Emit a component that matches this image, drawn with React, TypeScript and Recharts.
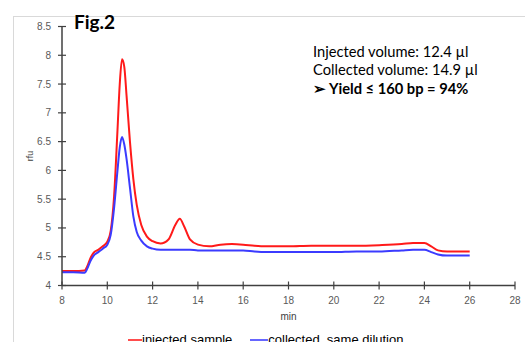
import { LineChart, Line, XAxis, YAxis } from "recharts";

const times = [8.0, 8.5, 9.0, 9.1, 9.25, 9.4, 9.6, 9.8, 10.0, 10.15, 10.3, 10.45, 10.55, 10.65, 10.75, 10.85, 11.0, 11.15, 11.3, 11.5, 11.75, 12.0, 12.35, 12.7, 13.0, 13.2, 13.4, 13.65, 14.0, 14.5, 15.0, 15.5, 16.0, 16.5, 17.0, 18.0, 19.0, 20.0, 21.0, 22.0, 23.0, 23.5, 24.0, 24.3, 24.6, 25.0, 26.0];
const injected = [4.25, 4.25, 4.26, 4.32, 4.47, 4.57, 4.62, 4.68, 4.76, 4.95, 5.55, 6.7, 7.5, 7.93, 7.8, 7.3, 6.5, 5.85, 5.4, 5.05, 4.85, 4.77, 4.73, 4.8, 5.05, 5.16, 5.02, 4.8, 4.71, 4.68, 4.71, 4.72, 4.71, 4.69, 4.68, 4.68, 4.69, 4.69, 4.69, 4.7, 4.72, 4.74, 4.74, 4.68, 4.61, 4.59, 4.59];
const collected = [4.23, 4.23, 4.22, 4.28, 4.42, 4.52, 4.58, 4.64, 4.71, 4.88, 5.35, 6.0, 6.4, 6.58, 6.45, 6.2, 5.7, 5.2, 4.93, 4.78, 4.68, 4.64, 4.62, 4.62, 4.62, 4.62, 4.62, 4.62, 4.61, 4.61, 4.61, 4.61, 4.61, 4.59, 4.58, 4.58, 4.58, 4.58, 4.59, 4.59, 4.61, 4.62, 4.62, 4.58, 4.54, 4.52, 4.52];

const xTicks = [8, 10, 12, 14, 16, 18, 20, 22, 24, 26, 28];
const yTicks = [4, 4.5, 5, 5.5, 6, 6.5, 7, 7.5, 8, 8.5];

const rows = times.map((t, i) => ({ t, inj: injected[i], col: collected[i] }));

const tickStyle = { fill: "#595959", fontSize: 10, fontFamily: "Liberation Sans, Arial, sans-serif" };

export default function App() {
  return (
    <div style={{ position: "absolute", left: 0, top: 0, width: 525, height: 342, overflow: "hidden", background: "#fff" }}>
      {/* faint chart-area frame */}
      <div style={{ position: "absolute", left: 13, top: 16, width: 540, height: 400, border: "1px solid #d9d9d9" }} />
      <div style={{ position: "absolute", left: 0, top: 0 }}>
        <LineChart width={525} height={342} data={rows} margin={{ top: 26.5, right: 10, left: 0, bottom: 22 }}>
          <XAxis
            dataKey="t"
            type="number"
            domain={[8, 28]}
            ticks={xTicks}
            interval={0}
            height={34.5}
            tick={tickStyle}
            tickSize={8}
            tickMargin={3}
            axisLine={{ stroke: "#404040", strokeWidth: 1.5 }}
            tickLine={{ stroke: "#404040", strokeWidth: 1.2, transform: "translate(0,-4)" }}
            label={{ value: "min", position: "insideBottom", offset: 0, fill: "#404040", fontSize: 10, fontFamily: "Liberation Sans, Arial, sans-serif" }}
          />
          <YAxis
            type="number"
            domain={[4, 8.5]}
            ticks={yTicks}
            interval={0}
            width={62}
            tick={tickStyle}
            tickSize={8}
            tickMargin={3}
            axisLine={{ stroke: "#404040", strokeWidth: 1.5 }}
            tickLine={{ stroke: "#404040", strokeWidth: 1.2, transform: "translate(4,0)" }}
            label={{ value: "rfu", angle: -90, position: "center", dx: -1, fill: "#404040", fontSize: 9, fontFamily: "Liberation Sans, Arial, sans-serif" }}
          />
          <Line type="monotone" dataKey="inj" stroke="#ff1a1a" strokeWidth={2} dot={false} isAnimationActive={false} />
          <Line type="monotone" dataKey="col" stroke="#3b3bff" strokeWidth={2} dot={false} isAnimationActive={false} />
        </LineChart>
      </div>
      <div style={{ position: "absolute", left: 74, top: 11, fontFamily: "Lato, sans-serif", fontWeight: 700, fontSize: 19, lineHeight: "22px", color: "#000" }}>
        Fig.2
      </div>
      <div style={{ position: "absolute", left: 313, top: 42, fontFamily: "Lato, sans-serif", fontSize: 14.7, lineHeight: "18.3px", color: "#000", whiteSpace: "nowrap" }}>
        <div>Injected volume: 12.4 µl</div>
        <div>Collected volume: 14.9 µl</div>
        <div style={{ fontWeight: 700 }}>➢ Yield ≤ 160 bp = 94%</div>
      </div>
      <div style={{ position: "absolute", left: 128, top: 332, display: "flex", alignItems: "center", fontFamily: "Liberation Sans, Arial, sans-serif", fontSize: 13, lineHeight: "16px", color: "#000", whiteSpace: "nowrap" }}>
        <span style={{ display: "inline-block", width: 14, height: 2, background: "#ff4d4d" }} />
        <span>injected sample</span>
        <span style={{ display: "inline-block", width: 18, height: 2, background: "#6666ff", marginLeft: 18 }} />
        <span>collected, same dilution</span>
      </div>
    </div>
  );
}
